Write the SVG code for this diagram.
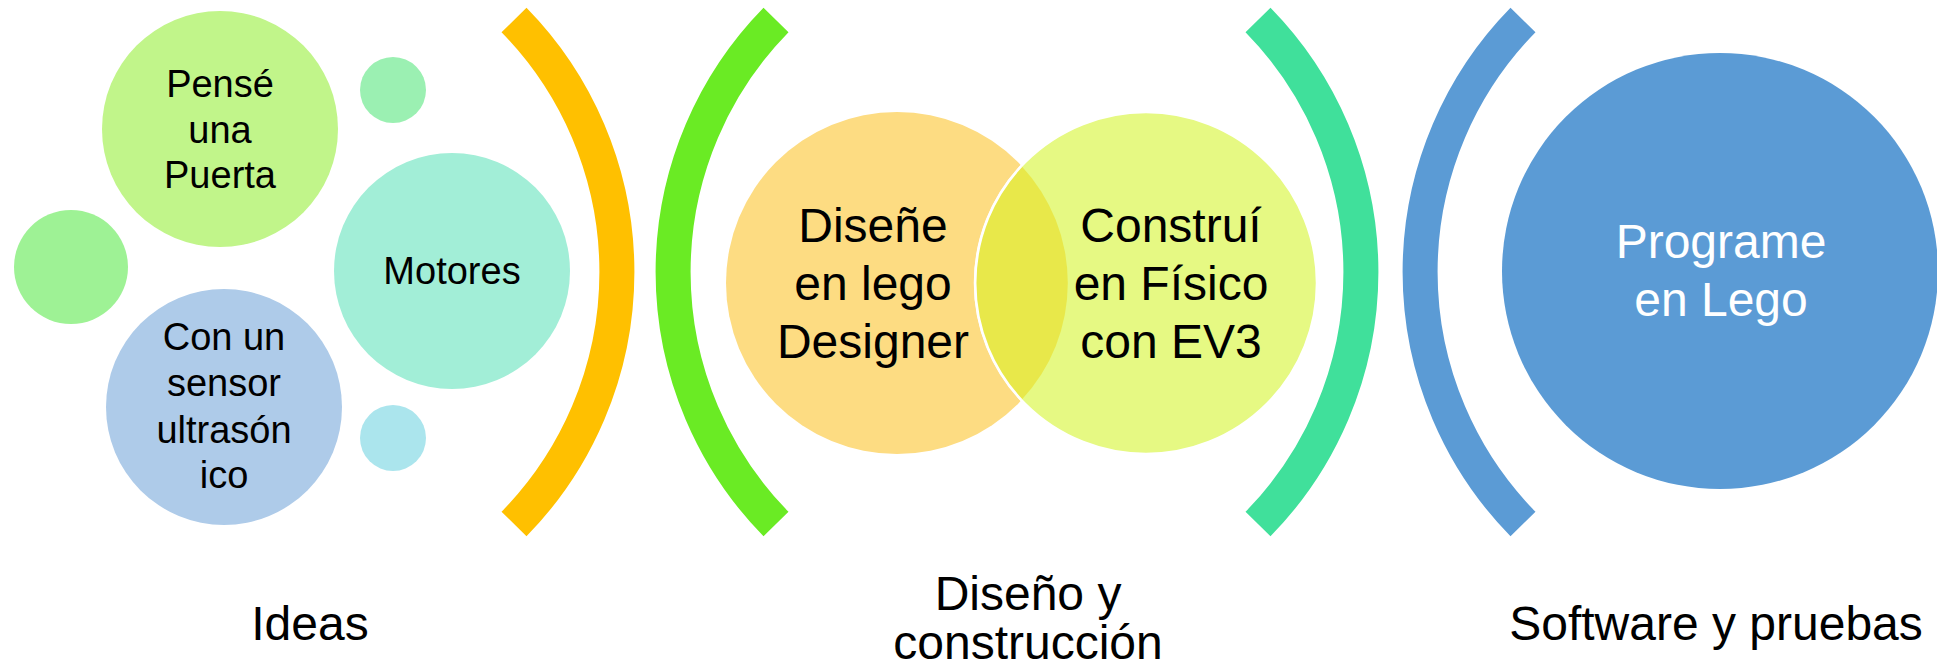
<svg xmlns="http://www.w3.org/2000/svg" width="1937" height="672" viewBox="0 0 1937 672">
<style>
text{font-family:"Liberation Sans",Arial,sans-serif;text-anchor:middle;fill:#000}
.s{font-size:38px}
.m{font-size:48px}
.w{fill:#fff}
.arc{fill:none;stroke-width:35;stroke-linecap:butt}
</style>
<rect width="1937" height="672" fill="#fff"/>
<g id="connectors">
<path id="arc-orange" class="arc" stroke="#FFC000" d="M514 20 A360 360 0 0 1 514 524"/>
<path id="arc-green" class="arc" stroke="#6AEB24" d="M776 20 A360 360 0 0 0 776 524"/>
<path id="arc-teal" class="arc" stroke="#40E09B" d="M1258 20 A360 360 0 0 1 1258 524"/>
<path id="arc-blue" class="arc" stroke="#5B9BD5" d="M1523 20 A360 360 0 0 0 1523 524"/>
</g>
<g id="node-pense">
<circle cx="220" cy="129" r="118" fill="#C1F58A"/>
<text class="s"><tspan x="220" y="97">Pensé</tspan><tspan x="220" y="143">una</tspan><tspan x="220" y="188">Puerta</tspan></text>
</g>
<g id="node-dot-top"><circle cx="393" cy="90" r="33" fill="#9BF0B2"/></g>
<g id="node-dot-left"><circle cx="71" cy="267" r="57" fill="#9EF295"/></g>
<g id="node-motores">
<circle cx="452" cy="271" r="118" fill="#A2EED7"/>
<text class="s" x="452" y="284">Motores</text>
</g>
<g id="node-sensor">
<circle cx="224" cy="407" r="118" fill="#AECBE9"/>
<text class="s"><tspan x="224" y="350">Con un</tspan><tspan x="224" y="396">sensor</tspan><tspan x="224" y="443">ultrasón</tspan><tspan x="224" y="488">ico</tspan></text>
</g>
<g id="node-dot-bottom"><circle cx="393" cy="438" r="33" fill="#ABE5ED"/></g>
<g id="node-disene">
<circle cx="897" cy="283" r="171" fill="#FDDC82"/>
<text class="m"><tspan x="873" y="242">Diseñe</tspan><tspan x="873" y="300">en lego</tspan><tspan x="873" y="358">Designer</tspan></text>
</g>
<g id="node-construi">
<circle cx="1146" cy="283" r="171" fill="#E6F983" stroke="#fff" stroke-width="2.5"/>
<path d="M1021.5 166 A171 171 0 0 1 1021.5 400 A171 171 0 0 1 1021.5 166 Z" fill="#E8E84A"/>
<path d="M1021.5 400 A171 171 0 0 1 1021.5 166" fill="none" stroke="#fff" stroke-width="2.5"/>
<text class="m"><tspan x="1171" y="242">Construí</tspan><tspan x="1171" y="300">en Físico</tspan><tspan x="1171" y="358">con EV3</tspan></text>
</g>
<g id="node-programe">
<circle cx="1720" cy="271" r="218" fill="#5B9BD5"/>
<text class="m w"><tspan x="1721" y="258">Programe</tspan><tspan x="1721" y="316">en Lego</tspan></text>
</g>
<g id="label-ideas"><text class="m" x="310" y="640">Ideas</text></g>
<g id="label-diseno"><text class="m"><tspan x="1028" y="610">Diseño y</tspan><tspan x="1028" y="659">construcción</tspan></text></g>
<g id="label-software"><text class="m" x="1716" y="640">Software y pruebas</text></g>
</svg>
